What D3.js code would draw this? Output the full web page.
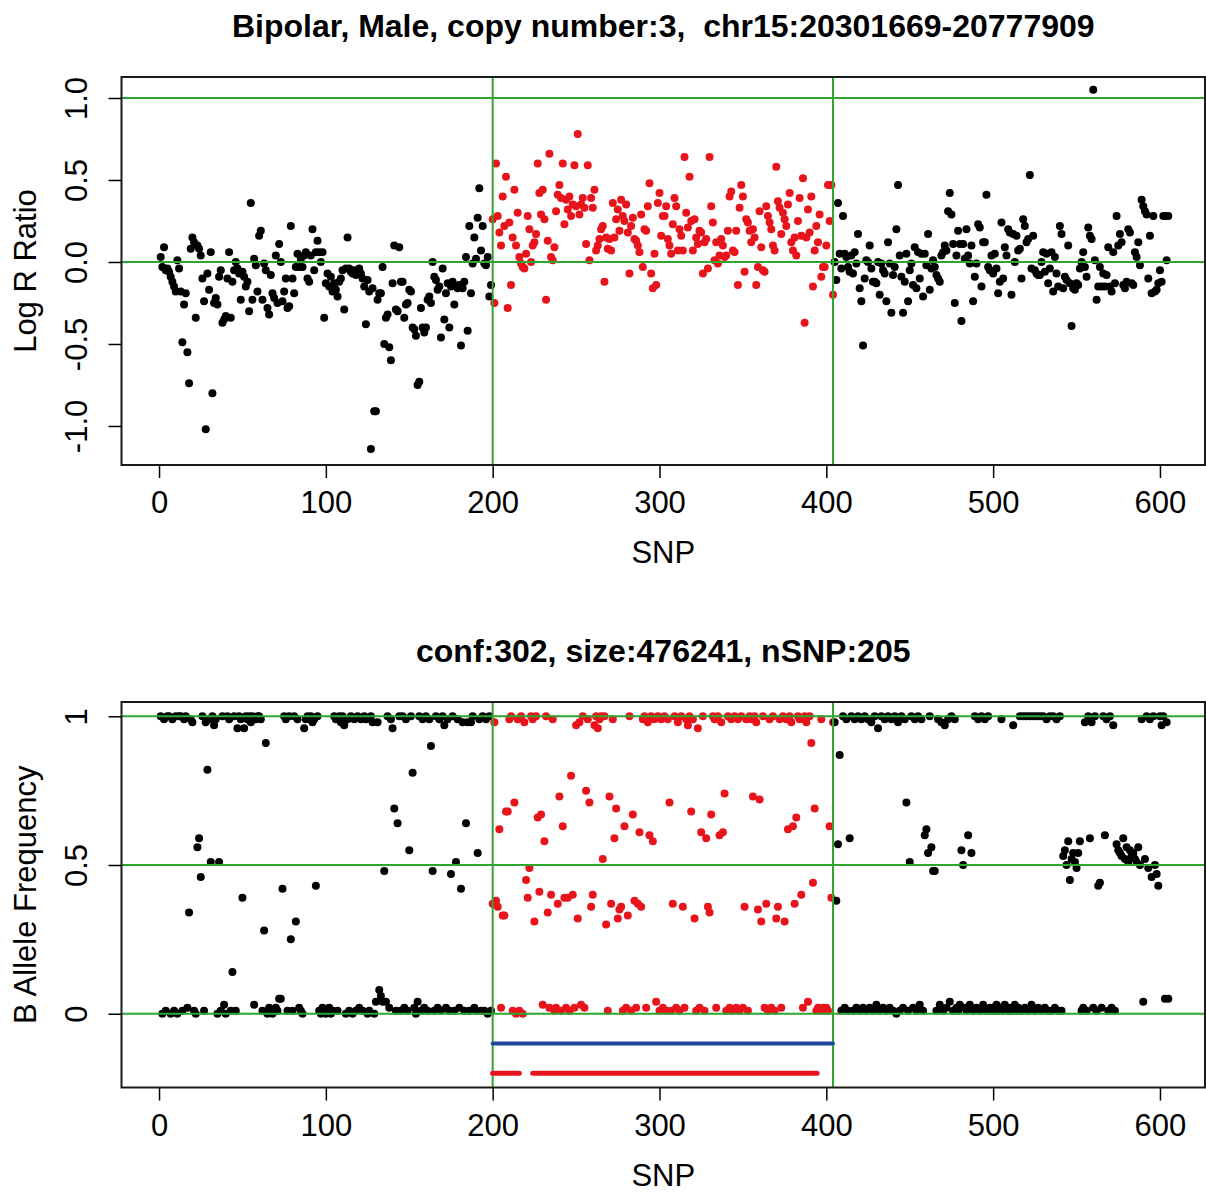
<!DOCTYPE html>
<html>
<head>
<meta charset="utf-8">
<script src="https://cdn.jsdelivr.net/npm/d3@7"></script>
<style>
body { margin: 0; background: #fff; }
svg text { font-family: "Liberation Sans", Arial, sans-serif; fill: #000; }
</style>
</head>
<body>
<div id="graph"></div>
<script>
var snpTicks = [0, 100, 200, 300, 400, 500, 600];
var lrrTicks = [-1, -0.5, 0, 0.5, 1];
var bafTicks = [0, 0.5, 1];
var lrrLignes = [0, 1];
var bafLignes = [0, 0.5, 1];
var cnvBornes = [200, 404];
var segmentsBleus = [[200, 404]];
var segmentsRouges = [[200, 216], [224, 394.5]];

// Log R Ratio, SNP 1-199 / 200-404 (CNV) / 405-605
var lrrAvant = [
    0.03, -0.03, 0.09, -0.05, -0.04, -0.06, -0.09, -0.12, -0.15, -0.18,
    0.01, -0.04, -0.18, -0.49, -0.26, -0.19, -0.55, -0.74, 0.08, 0.15,
    0.12, -0.34, 0.1, 0.08, 0.04, -0.1, -0.24, -1.02, -0.07, -0.17,
    0.06, -0.8, -0.25, -0.22, -0.26, -0.09, -0.05, -0.37, -0.35, -0.33,
    -0.1, 0.06, -0.34, -0.12, -0.05, 0, -0.04, -0.07, -0.23, -0.06,
    -0.09, -0.15, -0.12, -0.3, 0.36, -0.23, 0.02, -0.02, -0.18, 0.16,
    0.19, -0.23, -0.01, -0.05, -0.28, -0.32, -0.08, -0.19, -0.22, 0.04,
    -0.25, 0.11, 0, -0.24, -0.18, -0.1, -0.28, -0.27, 0.22, -0.1,
    -0.19, -0.03, 0.05, -0.03, 0.02, -0.03, 0.04, 0.06, -0.1, -0.12,
    0.04, 0.2, -0.05, 0.06, 0.13, 0.06, 0, 0.06, -0.34, -0.13,
    -0.07, -0.15, -0.09, -0.18, -0.13, -0.17, -0.21, -0.12, -0.1, -0.05,
    -0.29, -0.04, 0.15, -0.04, -0.06, -0.07, -0.05, -0.08, -0.06, -0.04,
    -0.07, -0.1, -0.15, -0.38, -0.11, -0.18, -1.14, -0.16, -0.91, -0.91,
    -0.23, -0.19, -0.19, -0.03, -0.5, -0.34, -0.32, -0.52, -0.6, -0.13,
    0.1, -0.29, -0.3, 0.09, -0.12, -0.12, -0.34, -0.26, -0.25, -0.17,
    -0.18, -0.4, -0.41, -0.45, -0.75, -0.73, -0.28, -0.4, -0.43, -0.4,
    -0.23, -0.21, -0.25, 0, -0.09, -0.11, -0.17, -0.15, -0.46, -0.04,
    -0.35, -0.19, -0.13, -0.4, -0.15, -0.12, -0.26, -0.15, -0.16, -0.14,
    -0.51, -0.16, -0.12, 0.03, -0.42, 0.22, -0.19, -0.01, 0.15, 0.02,
    0.27, 0.45, 0.07, 0.22, -0.01, -0.02, 0.03, -0.21, -0.14
];
var lrrCnv = [
    0.26, -0.25, 0.6, 0.28, 0.18, 0.1, 0.4, 0.22, 0.52, -0.28,
    0.24, -0.14, 0.15, 0.44, 0.1, 0.3, 0.03, -0.01, -0.03, -0.04,
    0.05, 0.28, 0.2, 0, 0.1, 0.12, 0.17, 0.6, 0.42, 0.29,
    0.44, 0.26, -0.23, 0.13, 0.66, 0.03, 0.01, 0.09, 0.31, 0.41,
    0.47, 0.39, 0.6, 0.23, 0.38, 0.32, 0.4, 0.28, 0.35, 0.59,
    0.34, 0.78, 0.29, 0.35, 0.39, 0.33, 0.11, 0.59, 0.01, 0.39,
    0.33, 0.44, 0.07, 0.1, 0.14, 0.2, 0.22, -0.12, 0.15, 0.08,
    0.14, 0.07, 0.36, 0.15, 0.26, 0.32, 0.19, 0.38, 0.28, 0.25,
    0.35, 0.18, -0.07, 0.22, 0.27, 0.14, 0.13, 0.1, 0.06, 0.29,
    -0.03, 0.2, 0.19, 0.34, 0.48, -0.07, -0.16, 0.05, -0.14, 0.36,
    0.42, 0.16, 0.28, 0.28, 0.34, 0.14, 0.1, 0.05, 0.23, 0.39,
    0.34, 0.07, 0.2, 0.16, 0.07, 0.64, 0.3, 0.21, 0.52, 0.25,
    0.07, 0.26, 0.15, 0.11, 0.19, 0.18, -0.07, 0.12, 0.14, -0.04,
    0.64, 0.34, 0.24, 0.01, 0.12, -0.01, 0.04, 0.14, 0.1, 0.03,
    0.04, 0.19, 0.4, 0.43, 0.07, 0.06, 0.19, -0.14, 0.33, 0.47,
    0.4, -0.06, 0.26, 0.24, 0.19, 0.12, 0.2, 0.15, -0.14, -0.03,
    0.31, 0.09, -0.05, -0.06, 0.34, 0.28, 0.24, 0.2, 0.1, 0.07,
    0.58, 0.37, 0.33, 0.17, 0.3, 0.26, 0.22, 0.35, 0.42, 0.12,
    0.07, 0.15, 0.04, 0.25, 0.39, 0.16, 0.51, -0.37, 0.15, 0.32,
    0.18, 0.4, -0.15, 0.07, 0.22, 0.12, 0.29, -0.09, -0.03, -0.03,
    0.1, 0.47, 0.25, 0.47, -0.2
];
var lrrApres = [
    0, -0.11, 0.36, 0.05, -0.04, 0.28, 0.05, 0.03, -0.03, -0.06,
    0.04, -0.07, 0.06, -0.01, 0.17, -0.16, -0.24, -0.51, -0.1, 0.01,
    0, 0.1, -0.04, -0.12, -0.12, -0.13, 0, -0.2, -0.01, -0.05,
    -0.07, -0.24, 0.12, -0.01, -0.31, -0.08, -0.03, 0.2, 0.47, 0.04,
    -0.09, -0.31, -0.12, 0.05, -0.24, -0.05, -0.01, -0.14, 0.09, -0.16,
    0.06, -0.1, 0.05, -0.21, 0.05, -0.02, 0.17, -0.17, -0.04, 0.01,
    -0.03, -0.08, -0.1, -0.12, 0.04, 0.06, 0.1, 0.07, 0.31, 0.42,
    0.29, 0.11, -0.25, 0.04, 0.19, 0.11, -0.36, 0.11, 0.02, 0.2,
    0.04, -0.01, 0.1, -0.24, -0.09, -0.01, 0.23, 0.21, -0.15, 0.12,
    0.12, 0.41, -0.03, -0.05, 0.04, -0.07, 0.05, -0.04, -0.19, -0.12,
    0.24, -0.1, 0.09, 0.04, 0.2, 0.18, -0.2, 0.17, 0, 0.16,
    0.07, 0.08, -0.1, 0.26, 0.22, 0.12, 0.14, 0.53, -0.04, 0.16,
    -0.05, -0.07, -0.08, -0.08, 0, 0.06, -0.06, 0.05, -0.13, -0.04,
    0.06, -0.18, 0.03, -0.07, -0.15, 0.22, 0.17, -0.16, -0.09, -0.11,
    0.1, -0.13, -0.39, -0.16, -0.17, -0.13, -0.14, -0.04, 0, 0.06,
    -0.03, -0.09, 0.21, 0.16, 0.14, 1.05, 0.01, -0.23, -0.15, -0.03,
    -0.15, -0.07, -0.15, -0.08, 0.09, -0.15, -0.18, 0.06, -0.13, 0.28,
    0.1, 0.17, 0.12, -0.14, -0.16, -0.12, 0.2, 0.18, -0.13, -0.14,
    0.06, 0.03, 0.12, -0.02, 0.38, 0.34, 0.31, 0.29, -0.1, 0.16,
    -0.19, 0.28, -0.18, -0.17, -0.13, -0.05, -0.12, 0.28, 0.28, 0.01,
    0.28
];

// B Allele Frequency, memes SNP
var bafAvant = [
    1, 0, 0.99, 0.01, 1, 1, 0, 0.99, 0.01, 1,
    0, 1, 1, 0.01, 0.99, 1, 0.02, 0.34, 0.99, 0.98,
    0.01, 0, 0.56, 0.59, 0.46, 1, 0.01, 0.98, 0.82, 0.99,
    0.51, 1, 0.97, 0.99, 0, 0.51, 0.01, 1, 0.03, 0,
    1, 0.99, 0.01, 0.14, 1, 0.01, 0.96, 1, 0.99, 0.39,
    0.96, 1, 0.99, 1, 0.98, 1, 0.03, 0.99, 1, 1,
    0.99, 0.01, 0.28, 0.91, 0, 0.02, 0.01, 0, 0.01, 0.02,
    0.01, 0.05, 0.05, 0.42, 1, 0.99, 0.01, 1, 0.25, 0.01,
    1, 0.31, 0.99, 0.02, 0.01, 0, 0.96, 0.99, 1, 0.99,
    1, 0.98, 0.99, 0.43, 1, 0.01, 0, 0.02, 0.01, 0,
    0.01, 0.02, 0, 0.01, 1, 0.99, 0.01, 1, 0.98, 1,
    0.97, 0, 0.99, 0.01, 1, 0, 0.99, 0.01, 1, 0.02,
    0.99, 0.01, 1, 0.99, 0, 0.01, 1, 0.98, 0, 0.04,
    0.98, 0.08, 0.06, 0.04, 0.48, 0.04, 1, 0.02, 0.99, 0.96,
    0.69, 0.01, 0.64, 1, 0.01, 1, 0.02, 0.99, 0.01, 0.55,
    1, 0.81, 0.02, 0, 0.04, 1, 0.01, 0.99, 0.02, 1,
    0.01, 0.99, 0.9, 0.48, 0.01, 1, 0.02, 0.99, 0.01, 1,
    0.97, 0.02, 0.99, 0.01, 0.47, 1, 0.01, 0.51, 0.99, 0.02,
    0.42, 0.98, 0.01, 0.64, 0.98, 0.01, 0.98, 1, 0.02, 0.01,
    0.54, 0.99, 0.01, 1, 0.01, 0.99, 0, 1, 0.01
];
var bafCnv = [
    0.37, 0.98, 0.38, 0.36, 0.62, 0.02, 0.33, 0.33, 0.68, 0.68,
    0.99, 1, 0.01, 0.71, 0, 0.99, 0.01, 1, 0, 0.98,
    0.45, 0.39, 0.49, 1, 0.99, 0.31, 1, 0.66, 0.41, 0.67,
    0.03, 0.58, 1, 0.34, 0.02, 0.4, 0.99, 0.01, 0.02, 0.37,
    0.73, 0.01, 0.63, 0.39, 0.02, 0.39, 0.01, 0.8, 0.4, 0.02,
    0.97, 0.32, 0.98, 0.03, 1, 0.02, 0.75, 0.99, 0.71, 0.36,
    0.4, 0.97, 1, 0.96, 0.99, 1, 0.52, 1, 0.3, 0.01,
    0.73, 0.37, 0.99, 0.59, 0.69, 0.32, 0.35, 0.36, 0.01, 0.63,
    0.02, 0.33, 1, 0.01, 0.67, 0.38, 0.02, 0.37, 0.61, 0.36,
    0.99, 1, 0.02, 0.98, 0.6, 1, 0.58, 0.99, 0.04, 1,
    0.01, 0.99, 0.02, 1, 0.01, 0.99, 0.71, 0.01, 0.37, 1,
    0.02, 0.98, 0.01, 1, 0.36, 0.02, 0.99, 0.97, 1, 0.68,
    0.99, 0.32, 0.01, 0.96, 0.02, 0.61, 1, 0.01, 0.59, 0.36,
    0.34, 0.67, 1, 0.99, 0.02, 1, 0.6, 0.98, 0.61, 0.74,
    0.01, 1, 0.02, 0.99, 0.01, 1, 0.02, 0.99, 0.01, 1,
    0.02, 0.36, 0.99, 0.01, 1, 0.99, 0.73, 1, 0.98, 0.35,
    0.72, 0.31, 1, 0.02, 0.37, 0.01, 0.99, 0.02, 1, 0.01,
    0.32, 0.36, 0.99, 0.02, 1, 0.31, 0.99, 0.62, 1, 0.98,
    0.63, 0.37, 0.66, 1, 0.99, 0.4, 0.02, 1, 0.98, 0.04,
    1, 0.91, 0.44, 0.69, 0.01, 0.02, 0.01, 0.99, 0.02, 0.01,
    0.02, 0.01, 0.63, 0.39, 0.98
];
var bafApres = [
    0.98, 0.38, 0.57, 0.87, 0.01, 1, 0.02, 0.99, 0.01, 0.59,
    1, 0.01, 0.99, 0.02, 1, 0.01, 0.99, 0.02, 1, 0.01,
    0.99, 0.02, 0.98, 0.01, 1, 0.03, 0.96, 0.01, 1, 0.02,
    0.99, 0.01, 1, 0.02, 0.99, 0.01, 1, 0, 0.98, 0.01,
    1, 0.02, 0.99, 0.71, 0.01, 0.51, 1, 0.02, 0.99, 0.01,
    1, 0.03, 0.99, 0.01, 0.6, 0.62, 0.54, 1, 0.56, 0.48,
    0.48, 0.01, 0.99, 0.03, 0.98, 0.01, 0.97, 0.02, 0.99, 0.04,
    1, 0.01, 0.99, 0.02, 0.01, 0.03, 0.55, 0.5, 0.02, 0.01,
    0.6, 0.03, 0.54, 0.01, 1, 0.02, 0.99, 0.01, 1, 0.03,
    0.99, 0.01, 1, 0.02, 0.01, 0.02, 0.01, 0.03, 0.01, 0.02,
    0.99, 0.01, 0.03, 0.02, 0.01, 0.02, 0.01, 0.97, 0.03, 0.01,
    0.02, 1, 0.01, 1, 0.02, 1, 0.01, 1, 0.03, 1,
    0.01, 1, 0.02, 1, 0.01, 1, 0.02, 0.99, 0.01, 1,
    0.01, 1, 0.02, 0.99, 0.01, 1, 0.01, 0.53, 0.55, 0.5,
    0.58, 0.45, 0.52, 0.54, 0.51, 0.49, 0.54, 0.58, 0.01, 0.02,
    0.98, 0.01, 1, 0.59, 0.98, 0.02, 1, 0.01, 0.43, 0.44,
    0.02, 1, 0.6, 0.99, 0.01, 1, 0.02, 0.97, 0.01, 0.57,
    0.55, 0.54, 0.53, 0.59, 0.52, 0.56, 0.51, 0.55, 0.53, 0.54,
    0.52, 0.51, 0.56, 0.5, 0.99, 0.04, 0.52, 1, 0.49, 0.99,
    0.46, 1, 0.5, 0.47, 0.43, 1, 0.97, 1, 0.05, 0.98, 0.05
];

var rouge = "#e8141b",
    vert = "#2fa52f",
    bleu = "#22439c";

function enPoints(avant, cnv, apres) {
    return avant.concat(cnv, apres).map(function (v, i) {
        var snp = i + 1;
        return {snp: snp, valeur: v, cnv: snp >= cnvBornes[0] && snp <= cnvBornes[1]};
    });
}

function dessinPanneau(svg, p) {
    var x = d3.scaleLinear().domain([-22.5, 627]).range([121.5, 1205]),
        y = d3.scaleLinear().domain(p.domaineY).range([p.bas, p.haut]),
        g = svg.append("g"),
        gauche = x.range()[0],
        droite = x.range()[1];

    g.selectAll(".point")
        .data(p.donnees)
        .enter()
        .append("circle")
            .attr("cx", function (d) { return x(d.snp); })
            .attr("cy", function (d) { return y(d.valeur); })
            .attr("r", 4)
            .attr("fill", function (d) { return d.cnv ? rouge : "black"; });

    // lignes de reference
    g.selectAll(".horiz")
        .data(p.lignes)
        .enter()
        .append("line")
            .attr("x1", gauche).attr("x2", droite)
            .attr("y1", function (d) { return y(d); })
            .attr("y2", function (d) { return y(d); })
            .attr("stroke", vert).attr("stroke-width", 2);
    g.selectAll(".vert")
        .data(cnvBornes)
        .enter()
        .append("line")
            .attr("x1", function (d) { return x(d); })
            .attr("x2", function (d) { return x(d); })
            .attr("y1", p.haut).attr("y2", p.bas)
            .attr("stroke", vert).attr("stroke-width", 2);

    (p.segments || []).forEach(function (s) {
        g.selectAll(null)
            .data(s.donnees)
            .enter()
            .append("line")
                .attr("x1", function (d) { return x(d[0]); })
                .attr("x2", function (d) { return x(d[1]); })
                .attr("y1", y(s.niveau)).attr("y2", y(s.niveau))
                .attr("stroke", s.couleur)
                .attr("stroke-width", s.largeur)
                .attr("stroke-linecap", "round");
    });

    g.append("rect")
        .attr("x", gauche).attr("y", p.haut)
        .attr("width", droite - gauche).attr("height", p.bas - p.haut)
        .attr("fill", "none").attr("stroke", "#1a1a1a").attr("stroke-width", 2);

    var axeX = g.append("g")
        .attr("transform", "translate(0," + p.bas + ")")
        .call(d3.axisBottom(x).tickValues(snpTicks).tickSize(13).tickPadding(13)
            .tickFormat(function (d) { return String(d); }));
    axeX.select(".domain").remove();
    axeX.attr("font-family", null).attr("font-size", null);
    axeX.selectAll("line").attr("stroke-width", 1.5);
    axeX.selectAll("text").style("font-size", "31px");

    var axeY = g.append("g")
        .attr("transform", "translate(" + gauche + ",0)")
        .call(d3.axisLeft(y).tickValues(p.ticks).tickSize(13).tickFormat(p.format));
    axeY.select(".domain").remove();
    axeY.attr("font-family", null).attr("font-size", null);
    axeY.selectAll("line").attr("stroke-width", 1.5);
    axeY.selectAll("text")
        .attr("x", 0).attr("y", -35).attr("dy", null)
        .attr("transform", "rotate(-90)")
        .attr("text-anchor", "middle")
        .style("font-size", "31px");

    svg.append("text")
        .attr("x", (gauche + droite) / 2).attr("y", p.haut - 40)
        .attr("text-anchor", "middle")
        .style("font-size", "32px").style("font-weight", "bold")
        .style("white-space", "pre")
        .text(p.titre);
    svg.append("text")
        .attr("x", (gauche + droite) / 2).attr("y", p.bas + 98)
        .attr("text-anchor", "middle")
        .style("font-size", "31px")
        .text("SNP");
    svg.append("text")
        .attr("transform", "translate(36," + (p.haut + p.bas) / 2 + ") rotate(-90)")
        .attr("text-anchor", "middle")
        .style("font-size", "31px")
        .text(p.etiquetteY);
}

var svg = d3.select("#graph")
    .append("svg")
        .attr("width", 1206)
        .attr("height", 1195);

dessinPanneau(svg, {
    donnees: enPoints(lrrAvant, lrrCnv, lrrApres),
    domaineY: [-1.238, 1.128], haut: 77, bas: 465,
    ticks: lrrTicks, lignes: lrrLignes,
    format: function (d) { return d.toFixed(1); },
    titre: "Bipolar, Male, copy number:3,  chr15:20301669-20777909",
    etiquetteY: "Log R Ratio"
});

dessinPanneau(svg, {
    donnees: enPoints(bafAvant, bafCnv, bafApres),
    domaineY: [-0.248, 1.048], haut: 702, bas: 1087.5,
    ticks: bafTicks, lignes: bafLignes,
    format: function (d) { return String(d); },
    titre: "conf:302, size:476241, nSNP:205",
    etiquetteY: "B Allele Frequency",
    segments: [
        {donnees: segmentsBleus, niveau: -0.1, couleur: bleu, largeur: 4},
        {donnees: segmentsRouges, niveau: -0.2, couleur: rouge, largeur: 5}
    ]
});
</script>
</body>
</html>
